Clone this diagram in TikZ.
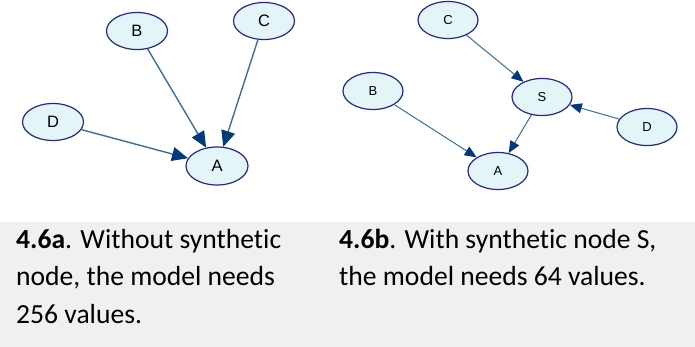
\documentclass[tikz,border=0pt]{standalone}
\usepackage{fontspec}
\setmainfont{Carlito}[Ligatures=NoCommon]
\newfontfamily\nodefont{Liberation Sans}
\usetikzlibrary{shapes.geometric,arrows.meta}
\definecolor{nodefill}{HTML}{E4F5F7}
\definecolor{nodeborder}{HTML}{27278C}
\definecolor{edgecol}{HTML}{3A6E9C}
\definecolor{headcol}{HTML}{003A78}
\definecolor{capbg}{HTML}{F0F0F0}
\tikzset{
  bnode/.style={ellipse, draw=nodeborder, fill=nodefill, line width=1.2pt,
    minimum width=61pt, minimum height=37pt, inner sep=0pt},
  bignode/.style={bnode, font=\nodefont\fontsize{16.5}{16.5}\selectfont},
  smallnode/.style={bnode, minimum width=60pt, font=\nodefont\fontsize{13}{13}\selectfont},
  bigedge/.style={draw=edgecol, line width=1.4pt,
    -{Triangle[length=16pt,width=14pt,fill=headcol,color=headcol]}},
  smalledge/.style={draw=edgecol, line width=1pt,
    -{Triangle[length=12pt,width=10pt,fill=headcol,color=headcol]}},
  caption/.style={anchor=base west, align=left, inner sep=0pt,
    font=\fontsize{27.6}{37.5}\selectfont, text=black}
}
\begin{document}
\begin{tikzpicture}[x=1pt,y=-1pt]
\useasboundingbox (0,0) rectangle (695,347);
\fill[capbg] (0,222) rectangle (695,347);
% left diagram
\node[bignode] (lB) at (137,31) {B};
\node[bignode] (lC) at (264,21) {C};
\node[bignode] (lD) at (53,122) {D};
\node[bignode, minimum width=62pt, minimum height=38pt] (lA) at (217,166) {A};
\draw[bigedge] (lB) -- (lA);
\draw[bigedge] (lC) -- (lA);
\draw[bigedge] (lD) -- (lA);
% right diagram
\node[smallnode] (rC) at (448,20) {C};
\node[smallnode] (rS) at (542,97) {S};
\node[smallnode] (rB) at (373,91) {B};
\node[smallnode] (rD) at (647,127) {D};
\node[smallnode] (rA) at (498,171) {A};
\draw[smalledge] (rC) -- (rS);
\draw[smalledge] (rB) -- (rA);
\draw[smalledge] (rS) -- (rA);
\draw[smalledge] (rD) -- (rS);
% captions (base anchor = baseline of last line)
\node[caption] (capa) at (16,323) {\textbf{4.6a}. Without synthetic\\node, the model needs\\256 values.};
\node[caption] (capb) at (339,285.5) {\textbf{4.6b}. With synthetic node S,\\the model needs 64 values.};
\end{tikzpicture}
\end{document}
